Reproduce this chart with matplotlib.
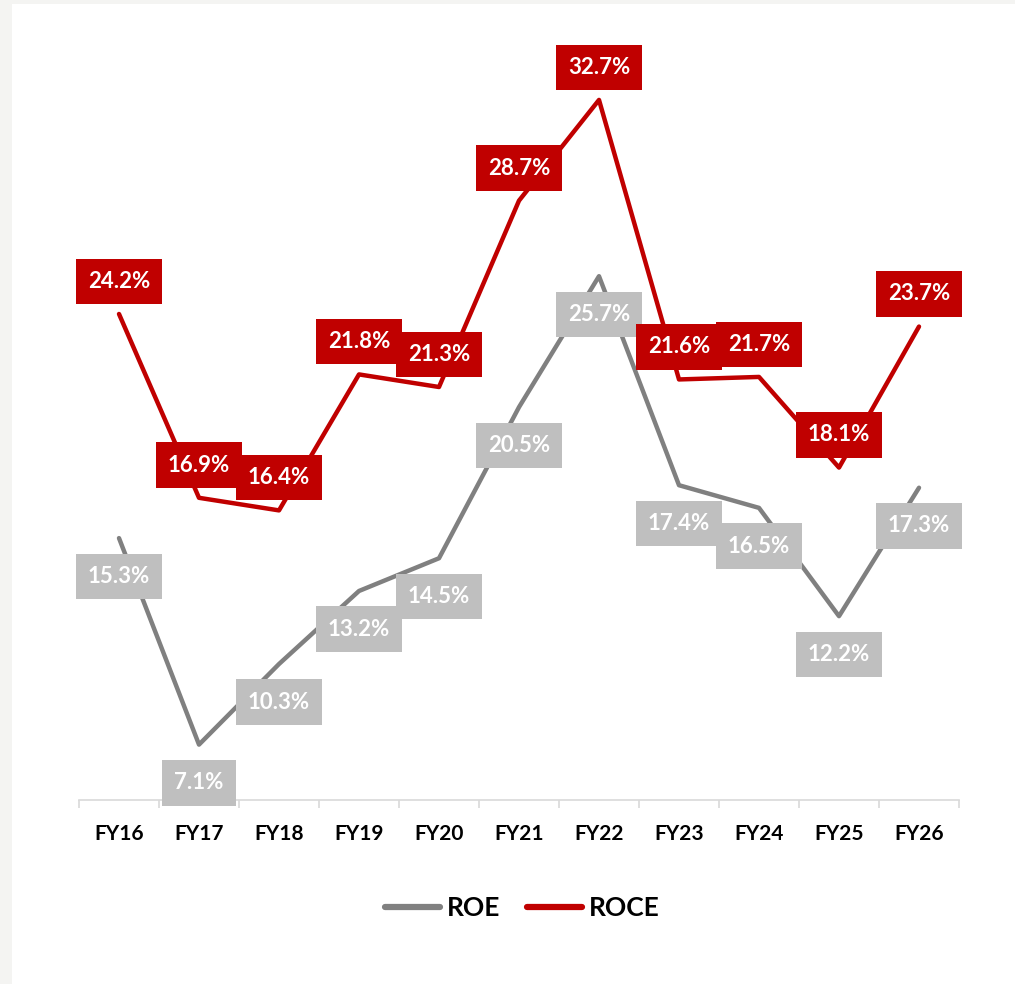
import matplotlib.pyplot as plt
from matplotlib.patches import Rectangle
from matplotlib.lines import Line2D

years = ["FY16", "FY17", "FY18", "FY19", "FY20", "FY21", "FY22", "FY23", "FY24", "FY25", "FY26"]
roe = [15.3, 7.1, 10.3, 13.2, 14.5, 20.5, 25.7, 17.4, 16.5, 12.2, 17.3]
roce = [24.2, 16.9, 16.4, 21.8, 21.3, 28.7, 32.7, 21.6, 21.7, 18.1, 23.7]

gray = "#808080"
gray_box = "#bfbfbf"
red = "#c00000"

plt.rcParams['font.family'] = ['Lato', 'DejaVu Sans']

fig = plt.figure(figsize=(10.15, 9.84), dpi=100, facecolor="#f4f4f2")
# white panel with a thin grey margin like the screenshot
fig.patches.append(Rectangle((12 / 1015, 0), 1, 1 - 4 / 984, transform=fig.transFigure,
                             facecolor="white", edgecolor="none", zorder=-10))

ax = fig.add_axes([79 / 1015, 1 - 800 / 984, 880 / 1015, 758 / 984])
ax.set_facecolor("none")
ax.set_zorder(1)

x = list(range(len(years)))
ax.plot(x, roe, color=gray, lw=3.2, solid_capstyle="round", zorder=2)
ax.plot(x, roce, color=red, lw=3.2, solid_capstyle="round", zorder=3)

# data labels: ROCE above the point, ROE below
for i, v in enumerate(roe):
    ax.annotate(f"{v:.1f}%", (i, v), xytext=(0, -27.5), textcoords="offset points",
                ha="center", va="center", color="white", fontsize=16, fontweight="bold",
                bbox=dict(boxstyle="square,pad=0.55", fc=gray_box, ec="none"), zorder=4)
for i, v in enumerate(roce):
    ax.annotate(f"{v:.1f}%", (i, v), xytext=(0, 23.5), textcoords="offset points",
                ha="center", va="center", color="white", fontsize=16, fontweight="bold",
                bbox=dict(boxstyle="square,pad=0.55", fc=red, ec="none"), zorder=5)

ax.set_xlim(-0.5, len(years) - 0.5)
ax.set_ylim(4.9, 35)
ax.set_yticks([])
ax.set_xticks(x)
ax.set_xticklabels(years, fontsize=15, fontweight="bold")
ax.set_xticks([i - 0.5 for i in range(len(years) + 1)], minor=True)
ax.tick_params(axis="x", which="major", length=0, pad=17)
ax.tick_params(axis="x", which="minor", length=6, color="#d9d9d9", width=1.2, direction="out")
for s in ["top", "right", "left"]:
    ax.spines[s].set_visible(False)
ax.spines["bottom"].set_color("#d9d9d9")
ax.spines["bottom"].set_linewidth(1.2)

handles = [Line2D([], [], color=gray, lw=4.5, solid_capstyle="round"),
           Line2D([], [], color=red, lw=4.5, solid_capstyle="round")]
fig.legend(handles, ["ROE", "ROCE"], loc="center", bbox_to_anchor=(522 / 1015, 1 - 908 / 984),
           ncol=2, frameon=False, handlelength=2.1, handletextpad=0.25, columnspacing=1.0,
           prop=dict(size=19, weight="bold"))

fig.savefig("out.png", dpi=100, facecolor=fig.get_facecolor())
